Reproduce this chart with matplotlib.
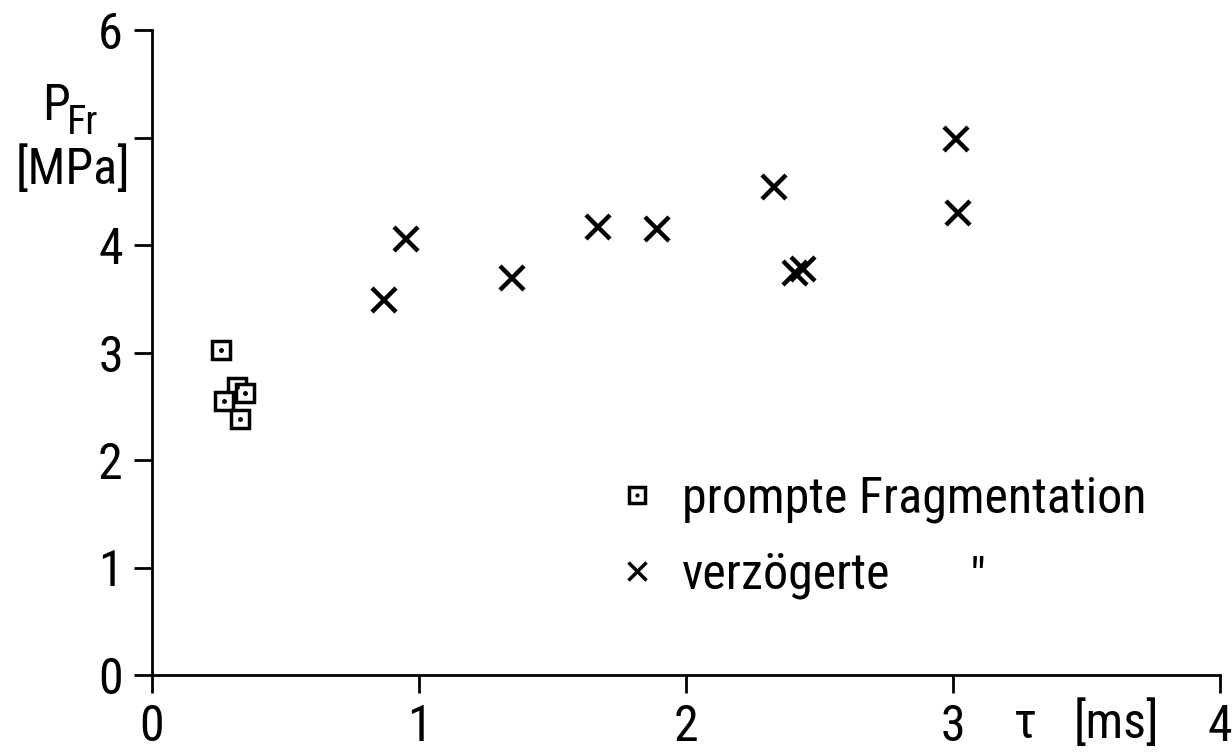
import matplotlib
matplotlib.use('Agg')
import matplotlib.pyplot as plt
from matplotlib import font_manager as fm
from matplotlib.lines import Line2D
from matplotlib.legend_handler import HandlerTuple

# prompte Fragmentation (squares)
tau_prompt = [0.26, 0.32, 0.27, 0.33, 0.35]
p_prompt = [3.02, 2.68, 2.55, 2.38, 2.62]

# verzoegerte Fragmentation (crosses)
tau_delay = [0.87, 0.95, 1.35, 1.67, 1.89, 2.33, 2.41, 2.44, 3.01, 3.02]
p_delay = [3.49, 4.06, 3.69, 4.17, 4.15, 4.54, 3.74, 3.78, 4.99, 4.30]

x_ticks = [0, 1, 2, 3, 4]
y_ticks = [0, 1, 2, 3, 4, 5, 6]
y_ticklabels = ['0', '1', '2', '3', '4', '', '6']
legend_labels = ['prompte Fragmentation', 'verzögerte']

# the original lettering is a narrow technical font; take a narrow one if there is one
fonts = fm.fontManager.ttflist
names = {f.name for f in fonts}
narrow = [n for n in ['Liberation Sans Narrow', 'DejaVu Sans Condensed', 'Roboto Condensed',
                      'Open Sans Condensed', 'Noto Sans Condensed'] if n in names]
fs = 36
if narrow:
    plt.rcParams['font.family'] = [narrow[0], 'DejaVu Sans']
elif any(f.name == 'DejaVu Sans' and f.stretch == 'condensed' for f in fonts):
    plt.rcParams['font.family'] = ['DejaVu Sans']
    plt.rcParams['font.stretch'] = 'condensed'
    fs = 33
else:
    plt.rcParams['font.family'] = ['Liberation Sans', 'DejaVu Sans']
    fs = 33

fig = plt.figure(figsize=(12.32, 7.53), dpi=100)
ax = fig.add_axes([152/1232, 1 - 675/753, (1220 - 152)/1232, (675 - 30)/753])

ax.plot(tau_delay, p_delay, 'x', color='black', markersize=17, mew=3.2)
ax.plot(tau_prompt, p_prompt, 's', color='black', mfc='white', markersize=13, mew=2.5)
ax.plot(tau_prompt, p_prompt, '.', color='black', markersize=5)

ax.set_xlim(0, 4)
ax.set_ylim(0, 6)
ax.set_xticks(x_ticks)
ax.set_yticks(y_ticks)
ax.set_yticklabels(y_ticklabels)
ax.spines['top'].set_visible(False)
ax.spines['right'].set_visible(False)
for s in ('left', 'bottom'):
    ax.spines[s].set_linewidth(2)
ax.tick_params(direction='out', length=13, width=2, labelsize=fs)
ax.tick_params(axis='x', pad=7)
ax.tick_params(axis='y', pad=8)

# legend
sq = Line2D([], [], ls='none', marker='s', color='black', mfc='white', markersize=12, mew=2.5)
dot = Line2D([], [], ls='none', marker='.', color='black', markersize=4)
cross = Line2D([], [], ls='none', marker='x', color='black', markersize=13, mew=2.5)
ax.legend([(sq, dot), cross], legend_labels, handler_map={tuple: HandlerTuple(ndivide=1)},
          loc='center left', bbox_to_anchor=(0.431, 0.215), frameon=False, fontsize=fs,
          handlelength=1, handletextpad=0.4, labelspacing=0.55,
          borderpad=0, borderaxespad=0)
ax.text(0.773, 0.148, '"', fontsize=fs, ha='center', va='center', transform=ax.transAxes)

# axis labels
fig.text(42/1232, 1 - 120/753, 'P', fontsize=fs, va='baseline')
fig.text(67/1232, 1 - 134/753, 'Fr', fontsize=fs * 0.8, va='baseline')
fig.text(73/1232, 1 - 170/753, '[MPa]', fontsize=fs, ha='center', va='center')
fig.text(1014/1232, 1 - 724/753, 'τ', fontsize=fs, ha='left', va='center')
fig.text(1074/1232, 1 - 724/753, '[ms]', fontsize=fs, ha='left', va='center')

fig.savefig('out.png', dpi=100)
